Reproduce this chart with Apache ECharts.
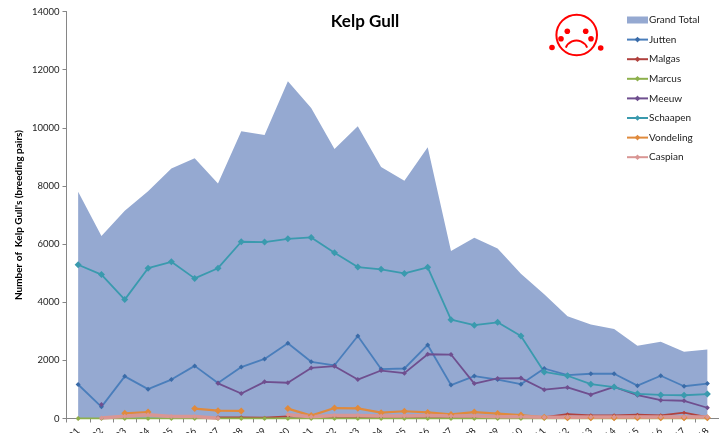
<!DOCTYPE html>
<html>
<head>
<meta charset="utf-8">
<style>html,body{margin:0;padding:0;background:#fff}#c{width:719px;height:433px}</style>
<script src="https://cdn.jsdelivr.net/npm/echarts@6/dist/echarts.min.js"></script>
</head>
<body>
<div id="c"></div>
<script>
var years = [1991,1992,1993,1994,1995,1996,1997,1998,1999,2000,2001,2002,2003,2004,2005,2006,2007,2008,2009,2010,2011,2012,2013,2014,2015,2016,2017,2018];
var grandTotal = [7800,6280,7150,7820,8600,8950,8080,9880,9750,11600,10680,9270,10050,8650,8180,9330,5760,6220,5850,4980,4270,3520,3230,3080,2500,2640,2300,2370];
var jutten = [1170,400,1450,1010,1340,1810,1220,1770,2050,2590,1950,1830,2840,1700,1720,2530,1150,1460,1340,1180,1720,1490,1540,1540,1130,1470,1110,1200];
var malgas = [0,null,null,null,null,null,40,40,30,70,50,50,40,30,50,50,30,20,20,20,50,150,110,110,130,110,200,50];
var marcus = [0,0,0,0,0,0,0,0,0,0,0,0,0,0,0,0,0,0,0,0,0,0,0,0,0,0,0,0];
var meeuw = [null,480,null,null,null,null,1210,860,1260,1230,1740,1800,1340,1650,1560,2210,2200,1200,1380,1390,990,1070,820,1090,800,630,610,370];
var schaapen = [5290,4950,4090,5170,5390,4820,5170,6080,6070,6180,6230,5700,5210,5130,4990,5200,3400,3210,3310,2840,1600,1470,1180,1080,850,810,800,840];
var vondeling = [null,null,180,220,null,340,270,260,null,340,100,360,350,200,250,210,140,220,170,120,40,30,30,30,30,30,30,30];
var caspian = [null,20,80,130,70,70,10,null,null,130,60,100,100,90,90,100,90,90,60,60,40,40,50,50,50,50,50,50];
var yTicks = {min:0,max:14000,interval:2000};

function line(name,data,color,width,size,mark){
  return {name:name,type:'line',data:data,connectNulls:false,symbol:'diamond',symbolSize:size,showSymbol:true,
    lineStyle:{color:color,width:width},itemStyle:{color:mark||color},emphasis:{disabled:true},z:3};
}
var chart = echarts.init(document.getElementById('c'),null,{renderer:'canvas'});
var red='#ff0000';
function dot(x,y,r){return {type:'circle',shape:{cx:x,cy:y,r:r},style:{fill:red}};}
chart.setOption({
  animation:false,
  backgroundColor:'#fff',
  textStyle:{fontFamily:'Lato'},
  title:{text:'Kelp Gull',left:360,top:8,textAlign:'center',textStyle:{fontFamily:'Lato',fontSize:17,fontWeight:'bold',color:'#000'}},
  grid:{left:66.5,right:0,top:11.5,bottom:14.5,containLabel:false,outerBoundsMode:'none'},
  legend:{orient:'vertical',left:621,top:10,itemWidth:21,itemHeight:7,itemGap:9.6,
    textStyle:{fontFamily:'Lato',fontSize:10,color:'#222',padding:[0,0,0,-4]},
    data:[{name:'Grand Total',icon:'rect'},'Jutten','Malgas','Marcus','Meeuw','Schaapen','Vondeling','Caspian']},
  xAxis:{type:'category',data:years,boundaryGap:true,
    axisLine:{lineStyle:{color:'#868686',width:1}},
    axisTick:{show:true,alignWithLabel:false,length:4,lineStyle:{color:'#868686'},interval:0},
    axisLabel:{rotate:45,interval:0,fontSize:9.5,color:'#222',margin:11,fontFamily:'Lato',hideOverlap:false}},
  yAxis:{type:'value',min:yTicks.min,max:yTicks.max,interval:yTicks.interval,
    name:"Number of  Kelp Gull's (breeding pairs)",nameLocation:'middle',nameGap:43,nameRotate:90,nameMoveOverlap:false,
    nameTextStyle:{fontFamily:'Lato',fontSize:10,fontWeight:'bold',color:'#000'},
    axisLine:{show:true,lineStyle:{color:'#868686',width:1}},
    axisTick:{show:true,length:4,lineStyle:{color:'#868686'}},
    axisLabel:{fontSize:9.5,color:'#222',margin:7,fontFamily:'Lato',formatter:function(v){return String(v);}},
    splitLine:{show:false}},
  series:[
    {name:'Grand Total',type:'line',data:grandTotal,symbol:'none',lineStyle:{width:0,color:'#95a9d1'},
      itemStyle:{color:'#95a9d1'},areaStyle:{color:'#95a9d1',opacity:1},emphasis:{disabled:true},z:2},
    line('Jutten',jutten,'#4a7ebb',1.8,5,'#3a6ba8'),
    line('Malgas',malgas,'#b0413e',1.8,4),
    line('Marcus',marcus,'#8db04c',1.8,5),
    line('Meeuw',meeuw,'#6f4f8f',1.8,5),
    line('Schaapen',schaapen,'#3a9aae',1.8,7),
    line('Vondeling',vondeling,'#e08a3c',2.2,7),
    line('Caspian',caspian,'#d99694',3.5,5)
  ],
  graphic:[{type:'group',silent:true,z:100,children:[
    {type:'circle',shape:{cx:576.7,cy:35,r:20.3},style:{fill:'none',stroke:red,lineWidth:2}},
    dot(567.3,31.3,2.8),dot(585.7,31.3,2.8),
    dot(561,38.7,2.8),dot(591,38.7,2.8),
    dot(552,47.5,2.8),dot(600.7,48,2.8),
    {type:'arc',shape:{cx:576.5,cy:52,r:11.5,startAngle:-2.76,endAngle:-0.39,clockwise:true},style:{fill:'none',stroke:red,lineWidth:2}}
  ]}]
});
</script>
</body>
</html>
